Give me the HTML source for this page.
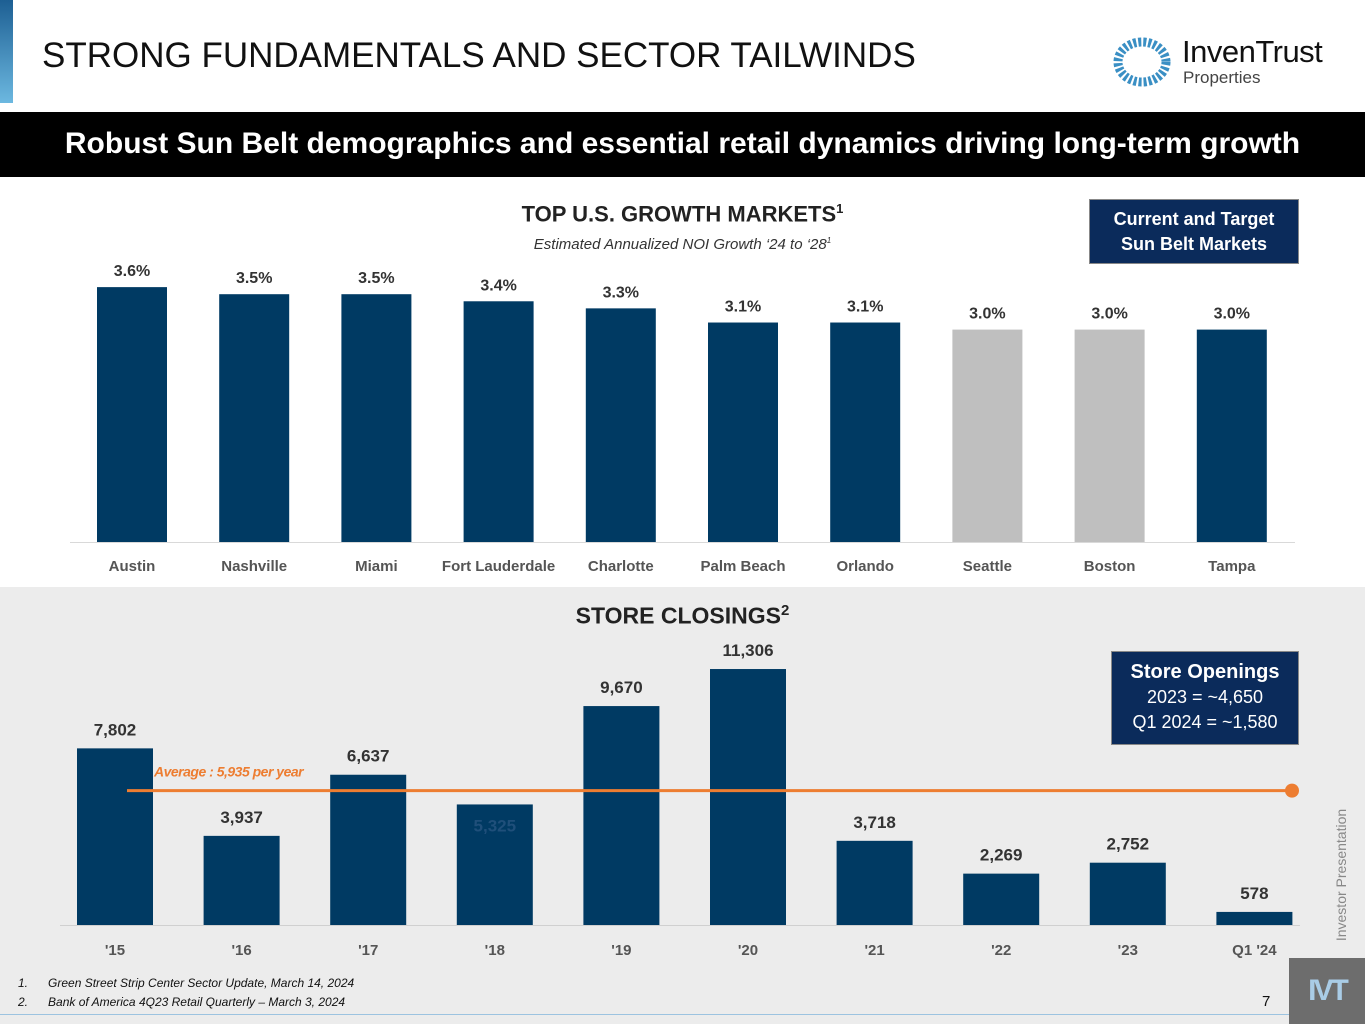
<!DOCTYPE html>
<html><head><meta charset="utf-8"><style>
body{margin:0;width:1365px;height:1024px;position:relative;overflow:hidden;background:#fff;font-family:"Liberation Sans",sans-serif}
.abs{position:absolute}
</style></head><body>
<div class="abs" style="left:0;top:0;width:13px;height:103px;background:linear-gradient(#1d5f93,#6cb8e0)"></div>
<div class="abs" style="left:42px;top:36px;font-size:35px;color:#111">STRONG FUNDAMENTALS AND SECTOR TAILWINDS</div>
<div class="abs" style="left:1112px;top:32px;width:230px;height:60px">
<svg width="60" height="60" style="position:absolute;left:0;top:0"><g fill="#2f82b8">
<ellipse cx="30" cy="30" rx="24" ry="20" fill="none" stroke="#3a8fc4" stroke-width="9" stroke-dasharray="3 2"/></g></svg>
<div style="position:absolute;left:70px;top:2px;font-size:31px;color:#111;letter-spacing:-0.5px">InvenTrust</div>
<div style="position:absolute;left:71px;top:36px;font-size:17px;color:#444">Properties</div></div>
<div class="abs" style="left:0;top:112px;width:1365px;height:65px;background:#000;color:#fff;font-weight:bold;font-size:30px;text-align:center;line-height:63px">Robust Sun Belt demographics and essential retail dynamics driving long-term growth</div>

<div class="abs" style="left:0;width:1365px;top:201px;text-align:center;font-weight:bold;font-size:22px;color:#222">TOP U.S. GROWTH MARKETS<sup style="font-size:13px">1</sup></div>
<div class="abs" style="left:0;width:1365px;top:236px;text-align:center;font-style:italic;font-size:15px;color:#333">Estimated Annualized NOI Growth ‘24 to ‘28<sup style="font-size:8px">1</sup></div>
<div class="abs" style="left:1089px;top:199px;width:210px;height:65px;background:#0b2b5b;color:#fff;font-weight:bold;font-size:18px;text-align:center;line-height:25px;padding-top:7px;box-sizing:border-box;border:1px solid #888">Current and Target<br>Sun Belt Markets</div>

<div class="abs" style="left:0;top:587px;width:1365px;height:437px;background:#ececec"></div>
<div class="abs" style="left:0;width:1365px;top:602px;text-align:center;font-weight:bold;font-size:23px;color:#222">STORE CLOSINGS<sup style="font-size:15px">2</sup></div>
<div class="abs" style="left:1111px;top:651px;width:188px;height:94px;background:#0b2b5b;color:#fff;font-size:18px;text-align:center;line-height:25px;padding-top:8px;box-sizing:border-box;border:1px solid #888"><b style="font-size:20px">Store Openings</b><br>2023 = ~4,650<br>Q1 2024 = ~1,580</div>

<svg class="abs" style="left:0;top:0" width="1365" height="1024" id="chart"></svg>

<div class="abs" style="left:1271px;top:866px;width:140px;height:18px;line-height:18px;transform:rotate(-90deg);transform-origin:center;font-size:14px;color:#888;text-align:center">Investor Presentation</div>
<div class="abs" style="left:18px;top:976px;font-size:12px;font-style:italic;color:#111">1.&nbsp;&nbsp;&nbsp;&nbsp;&nbsp;&nbsp;Green Street Strip Center Sector Update, March 14, 2024</div>
<div class="abs" style="left:18px;top:995px;font-size:12px;font-style:italic;color:#111">2.&nbsp;&nbsp;&nbsp;&nbsp;&nbsp;&nbsp;Bank of America 4Q23 Retail Quarterly – March 3, 2024</div>
<div class="abs" style="left:0;top:1014px;width:1289px;height:1px;background:#9cc3e0"></div>
<div class="abs" style="left:1262px;top:993px;font-size:15px;color:#111">7</div>
<div class="abs" style="left:1289px;top:958px;width:76px;height:66px;background:#6d6d6d;color:#a9cce6;font-weight:bold;font-size:30px;text-align:center;line-height:66px;letter-spacing:-3px">IVT</div>

<script>
const markets=["Austin","Nashville","Miami","Fort Lauderdale","Charlotte","Palm Beach","Orlando","Seattle","Boston","Tampa"];
const growth=[3.6,3.5,3.5,3.4,3.3,3.1,3.1,3.0,3.0,3.0];
const growthLabels=["3.6%","3.5%","3.5%","3.4%","3.3%","3.1%","3.1%","3.0%","3.0%","3.0%"];
const sunBelt=[true,true,true,true,true,true,true,false,false,true];
const years=["'15","'16","'17","'18","'19","'20","'21","'22","'23","Q1 '24"];
const closings=[7802,3937,6637,5325,9670,11306,3718,2269,2752,578];
const closingLabels=["7,802","3,937","6,637","5,325","9,670","11,306","3,718","2,269","2,752","578"];
const average=5935;
const averageLabel="Average : 5,935 per year";

const svg=document.getElementById('chart');
const NS='http://www.w3.org/2000/svg';
function mk(t,a,txt){const e=document.createElementNS(NS,t);for(const k in a)e.setAttribute(k,a[k]);if(txt!=null)e.textContent=txt;svg.appendChild(e);return e;}
const FONT='"Liberation Sans",sans-serif';
const x1=i=>132+i*122.2, y1=v=>542-v*70.8;
mk('line',{x1:70,x2:1295,y1:542.5,y2:542.5,stroke:'#d9d9d9','stroke-width':1});
growth.forEach((v,i)=>{
 const r=mk('rect',{x:x1(i)-35,y:y1(v),width:70,height:542-y1(v),fill:sunBelt[i]?'#003a63':'#bfbfbf'});
 
 
 const t=mk('text',{x:x1(i),y:y1(v)-11,'text-anchor':'middle','font-family':FONT,'font-weight':'bold','font-size':16,fill:'#333'},growthLabels[i]);
 
 
 const c=mk('text',{x:x1(i),y:571,'text-anchor':'middle','font-family':FONT,'font-weight':'bold','font-size':15,fill:'#555'},markets[i]);
 
 
});
const x2=i=>115+i*126.6, y2=v=>925-v*0.02264;
mk('line',{x1:60,x2:1300,y1:925.5,y2:925.5,stroke:'#d0d0d0','stroke-width':1});
closings.forEach((v,i)=>{
 const r=mk('rect',{x:x2(i)-38,y:y2(v),width:76,height:925-y2(v),fill:'#003a63'});
 
 
 const inside=i===3;
 const t=mk('text',{x:x2(i),y:inside?y2(v)+27:y2(v)-13,'text-anchor':'middle','font-family':FONT,'font-weight':'bold','font-size':17,fill:inside?'#1f4f7a':'#333'},closingLabels[i]);
 
 
 const c=mk('text',{x:x2(i),y:955,'text-anchor':'middle','font-family':FONT,'font-weight':'bold','font-size':15,fill:'#555'},years[i]);
 
 
});
const al=mk('line',{x1:x2(0)+12,x2:1292,y1:y2(average),y2:y2(average),stroke:'#ed7d31','stroke-width':3});


const ad=mk('circle',{cx:1292,cy:y2(average),r:7,fill:'#ed7d31'});


const at=mk('text',{x:154,y:y2(average)-14,'font-family':FONT,'font-weight':'bold','font-style':'italic','font-size':14,fill:'#ed7d31','letter-spacing':'-0.5'},averageLabel);


</script>
</body></html>
